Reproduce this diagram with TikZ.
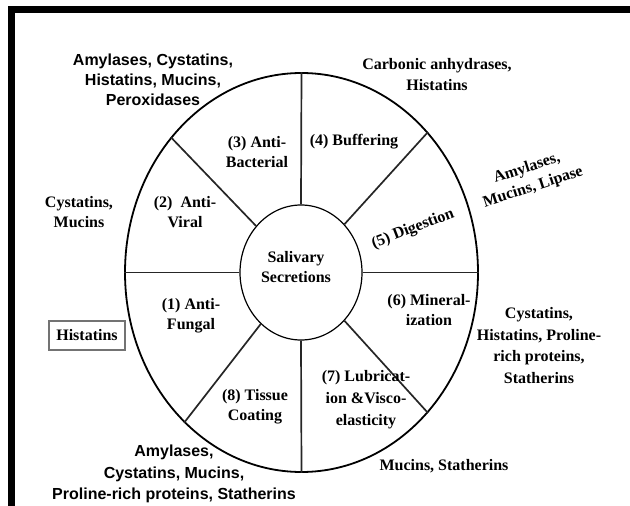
\documentclass[tikz,border=0pt]{standalone}
\usepackage{fontspec}
\setmainfont{Liberation Serif}
\setsansfont{Liberation Sans}
\usetikzlibrary{shapes.geometric}

\begin{document}
\begin{tikzpicture}[x=1pt,y=-1pt,
  rim/.style={draw,ellipse,inner sep=0pt,line width=1.8pt},
  spoke/.style={draw,line width=1.7pt,black!85},
  lbl/.style={font=\bfseries\fontsize{16}{20}\selectfont,align=center,inner sep=0pt},
  slbl/.style={font=\sffamily\bfseries\fontsize{16}{20}\selectfont,align=center,inner sep=0pt}]
  \useasboundingbox (0,0) rectangle (630,506);
  % frame (cut off at right and bottom)
  \draw[line width=7pt] (11.5,506) |- (630,9);
  % wheel
  \node[rim,minimum width=353pt,minimum height=399pt] (outer) at (301.5,272.5) {};
  \node[rim,line width=1.2pt,minimum width=122pt,minimum height=135pt] (inner) at (301,272.5) {};
  \node[lbl] (sal) at (296,267) {Salivary\\Secretions};
  \draw[spoke] (inner.north) -- (outer.north);
  \draw[spoke] (inner.south) -- (outer.south);
  \draw[spoke] (inner.west) -- (outer.west);
  \draw[spoke] (inner.east) -- (outer.east);
  \draw[spoke] (inner.48) -- (outer.48);
  \draw[spoke] (inner.134) -- (outer.134);
  \draw[spoke] (inner.232) -- (outer.232);
  \draw[spoke] (inner.312) -- (outer.312);
  % functions
  \node[lbl] (fungal) at (191,316) {(1) Anti-\\Fungal};
  \node[lbl] (viral) at (185,212) {(2)~ Anti-\\Viral};
  \node[lbl] (bact) at (257,152) {(3) Anti-\\Bacterial};
  \node[lbl] (buff) at (354,142) {(4) Buffering};
  \node[lbl,rotate=21] (dig) at (413,229) {(5) Digestion};
  \node[lbl] (mineral) at (429,310) {(6) Mineral-\\ization};
  \node[lbl,font=\bfseries\fontsize{16}{22}\selectfont] (lubric) at (366,400) {(7) Lubricat-\\ion \&Visco-\\elasticity};
  \node[lbl] (tissue) at (255,407) {(8) Tissue\\Coating};
  % proteins
  \node[lbl,draw=black!55,line width=1.4pt,minimum width=76pt,minimum height=29pt] (histbox) at (87,335.5) {Histatins};
  \node[lbl] (cysmuc) at (79,212) {Cystatins,\\Mucins};
  \node[slbl] (amyper) at (153,80) {Amylases, Cystatins,\\Histatins, Mucins,\\Peroxidases};
  \node[lbl,font=\bfseries\fontsize{16}{21}\selectfont] (carb) at (437,75) {Carbonic anhydrases,\\Histatins};
  \node[lbl,rotate=18] (amylip) at (530,178) {Amylases,\\Mucins, Lipase};
  \node[lbl,font=\bfseries\fontsize{16}{21.5}\selectfont] (cyspro) at (539,345.5) {Cystatins,\\Histatins, Proline-\\rich proteins,\\Statherins};
  \node[lbl] (mucsta) at (444,466) {Mucins, Statherins};
  \node[slbl,font=\sffamily\bfseries\fontsize{16}{21.5}\selectfont] (amysta) at (174,474) {Amylases,\\Cystatins, Mucins,\\Proline-rich proteins, Statherins};
\end{tikzpicture}
\end{document}
